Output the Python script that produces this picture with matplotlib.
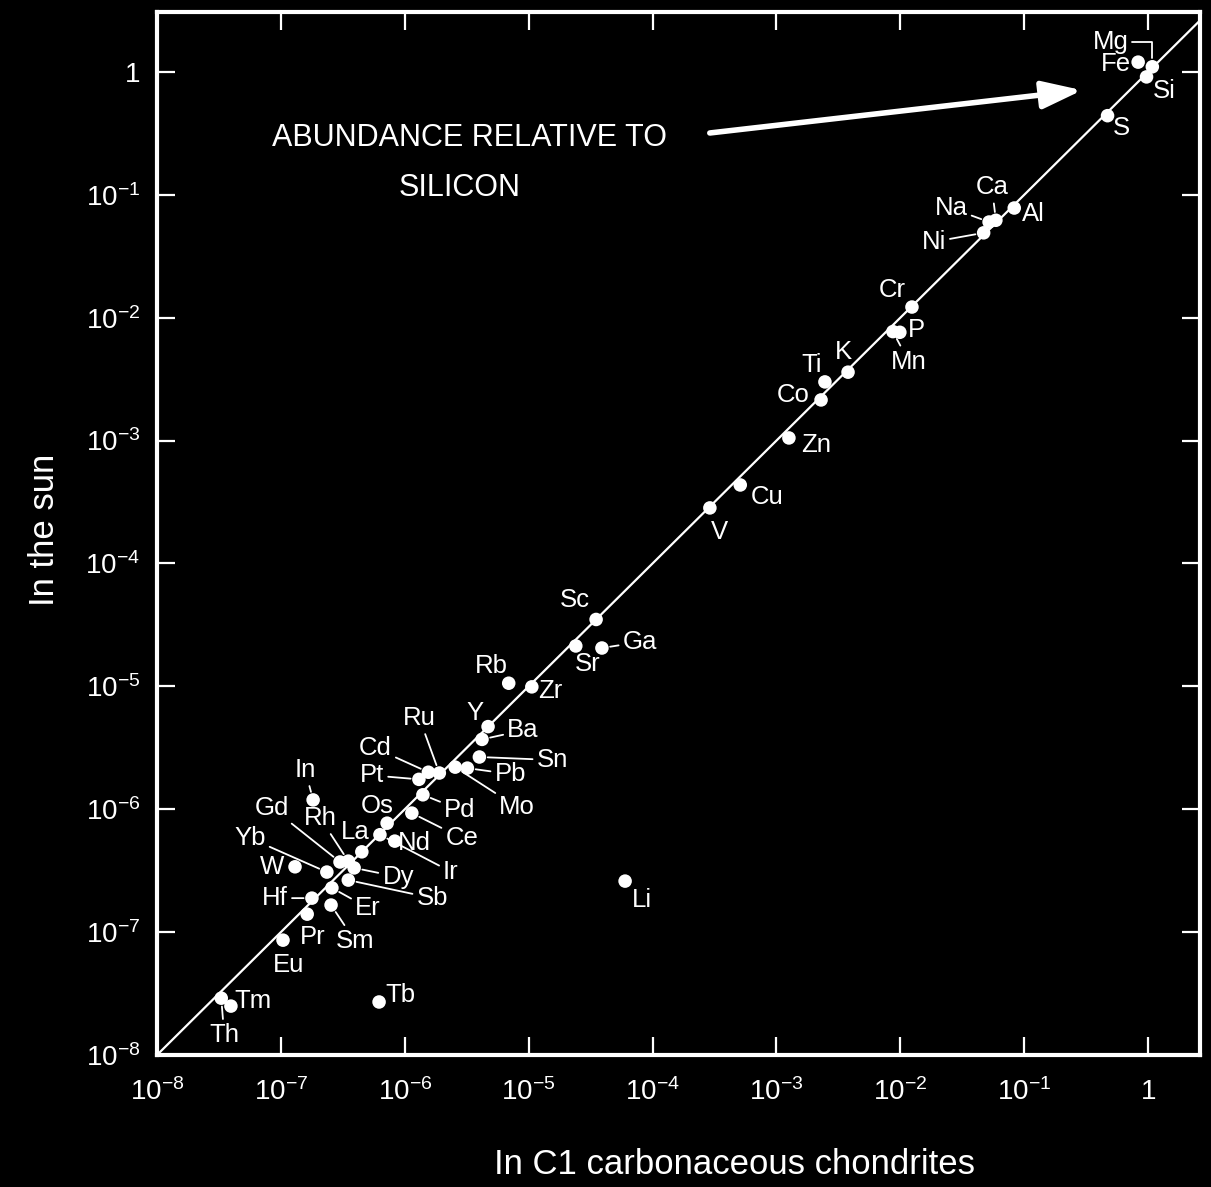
import numpy as np
import matplotlib.pyplot as plt
from matplotlib.ticker import FixedLocator, FuncFormatter, NullLocator

# ------------------------------------------------------------
# DATA (abundance relative to silicon)
# ------------------------------------------------------------

elements = [
    "Mg", "Fe", "Si", "S", "Al", "Ca", "Na", "Ni",
    "Cr", "P", "Mn", "Ti", "K", "Co", "Zn", "Cu", "V",
    "Sc", "Sr", "Ga", "Rb", "Zr", "Y", "Ba",
    "Sn", "Pb", "Mo", "Ru", "Cd", "Pt", "Pd",
    "Os", "Ce", "Nd", "Ir", "La",
    "In", "Rh", "Gd", "Yb", "W", "Dy", "Sb",
    "Hf", "Er", "Sm", "Pr", "Eu", "Tm", "Th", "Tb", "Li",
]

chondrites = [
    1.08, 0.83, 0.97, 0.47, 0.083, 0.059, 0.052, 0.047,
    0.0124, 0.0099, 0.0087, 0.00246, 0.00378, 0.00229, 0.00126, 5.1e-4, 2.9e-4,
    3.5e-5, 2.4e-5, 3.9e-5, 6.9e-6, 1.06e-5, 4.7e-6, 4.2e-6,
    4.0e-6, 3.2e-6, 2.55e-6, 1.9e-6, 1.55e-6, 1.3e-6, 1.4e-6,
    7.2e-7, 1.14e-6, 8.3e-7, 6.3e-7, 4.5e-7,
    1.82e-7, 3.5e-7, 3.0e-7, 2.35e-7, 1.3e-7, 3.9e-7, 3.5e-7,
    1.78e-7, 2.58e-7, 2.54e-7, 1.63e-7, 1.04e-7, 3.95e-8, 3.3e-8, 6.2e-7, 6.0e-5,
]

sun = [
    1.10, 1.2, 0.91, 0.44, 0.078, 0.062, 0.060, 0.049,
    0.0122, 0.0076, 0.0077, 0.0030, 0.0036, 0.00214, 0.00105, 4.35e-4, 2.83e-4,
    3.5e-5, 2.13e-5, 2.05e-5, 1.06e-5, 9.9e-6, 4.7e-6, 3.7e-6,
    2.66e-6, 2.16e-6, 2.2e-6, 1.97e-6, 2.0e-6, 1.75e-6, 1.31e-6,
    7.7e-7, 9.3e-7, 5.5e-7, 6.2e-7, 4.5e-7,
    1.19e-6, 3.78e-7, 3.72e-7, 3.08e-7, 3.4e-7, 3.33e-7, 2.65e-7,
    1.89e-7, 2.29e-7, 1.66e-7, 1.40e-7, 8.6e-8, 2.5e-8, 2.9e-8, 2.7e-8, 2.6e-7,
]

decades = list(range(-8, 1))

# label placement (pixel offset from point to label centre)
label_offset = {
    "Mg": (-42, 25), "Fe": (-22, -2), "Si": (18, -14), "S": (14, -12),
    "Al": (19, -6), "Ca": (-4, 33), "Na": (-38, 14), "Ni": (-50, -9),
    "Cr": (-20, 17), "P": (17, 2), "Mn": (16, -30), "Ti": (-13, 17),
    "K": (-5, 20), "Co": (-28, 5), "Zn": (27, -7), "Cu": (27, -12),
    "V": (10, -24), "Sc": (-21, 19), "Sr": (12, -18), "Ga": (38, 6),
    "Rb": (-17, 17), "Zr": (18, -4), "Y": (-13, 14), "Ba": (41, 9),
    "Sn": (73, -3), "Pb": (43, -6), "Mo": (62, -40), "Ru": (-20, 55),
    "Cd": (-53, 24), "Pt": (-47, 4), "Pd": (37, -15), "Os": (-10, 17),
    "Ce": (50, -25), "Nd": (20, -2), "Ir": (71, -37), "La": (-7, 20),
    "In": (-8, 30), "Rh": (-28, 43), "Gd": (-68, 54), "Yb": (-77, 34),
    "W": (-23, 0), "Dy": (44, -9), "Sb": (84, -18), "Hf": (-37, 0),
    "Er": (36, -20), "Sm": (24, -36), "Pr": (6, -23), "Eu": (6, -25),
    "Tm": (22, 5), "Th": (3, -37), "Tb": (21, 7), "Li": (17, -19),
}

leaders = {
    "Mg", "Ca", "Na", "Ni", "Mn", "Ga", "Ba", "Sn", "Pb", "Mo", "Ru",
    "Cd", "Pt", "Pd", "Ce", "Ir", "In", "Rh", "Gd", "Yb", "Dy", "Sb",
    "Hf", "Er", "Sm", "Th",
}

# ------------------------------------------------------------
# STYLE
# ------------------------------------------------------------

plt.rcParams['font.family'] = ['Liberation Sans', 'DejaVu Sans']
plt.rcParams['mathtext.fontset'] = 'custom'
plt.rcParams['mathtext.rm'] = 'Liberation Sans'
plt.rcParams['mathtext.it'] = 'Liberation Sans'
plt.rcParams['mathtext.default'] = 'regular'

W, H = 1211, 1187

fig = plt.figure(figsize=(W / 100, H / 100), dpi=100, facecolor='black')
ax = fig.add_axes([157 / W, 132 / H, 1043 / W, 1043 / H])
ax.set_facecolor('black')

ax.set_xscale('log')
ax.set_yscale('log')
ax.set_xlim(1e-8, 2.62)
ax.set_ylim(1e-8, 3.07)

# y = x line
ax.plot([1e-8, 10], [1e-8, 10], color='white', lw=1.6, zorder=2)

ax.scatter(chondrites, sun, s=95, color='white', edgecolors='none', zorder=3)

for name, xv, yv in zip(elements, chondrites, sun):
    dx, dy = label_offset[name]
    arrow = None
    if name in leaders:
        arrow = dict(arrowstyle='-', color='white', lw=1.3,
                     shrinkA=1, shrinkB=6)
        if name == "Mg":
            arrow['connectionstyle'] = 'angle,angleA=0,angleB=90,rad=0'
    ax.annotate(name, (xv, yv), xytext=(dx, dy), textcoords='offset pixels',
                ha='center', va='center', color='white', fontsize=18.5,
                arrowprops=arrow, zorder=4)

# ticks
ticks = [10.0 ** k for k in decades]


def fmt(v, _):
    k = int(round(np.log10(v)))
    return '1' if k == 0 else '$10^{%d}$' % k


for axis in (ax.xaxis, ax.yaxis):
    axis.set_major_locator(FixedLocator(ticks))
    axis.set_minor_locator(NullLocator())
    axis.set_major_formatter(FuncFormatter(fmt))

ax.tick_params(which='major', direction='in', length=13, width=1.6,
               color='white', labelcolor='white', labelsize=20,
               top=True, right=True)
ax.tick_params(axis='x', pad=17)
ax.tick_params(axis='y', pad=12)

for sp in ax.spines.values():
    sp.set_color('white')
    sp.set_linewidth(3)

# annotation
ax.annotate('', xy=(0.887, 0.925), xytext=(0.530, 0.884),
            xycoords='axes fraction',
            arrowprops=dict(arrowstyle='-|>,head_length=1.1,head_width=0.38',
                            color='white', lw=4, mutation_scale=22,
                            shrinkA=0, shrinkB=0))
ax.text(0.300, 0.879, 'ABUNDANCE RELATIVE TO', transform=ax.transAxes,
        ha='center', va='center', color='white', fontsize=22)
ax.text(0.2905, 0.831, 'SILICON', transform=ax.transAxes,
        ha='center', va='center', color='white', fontsize=22)

fig.text(735 / W, 1 - 1165 / H, 'In C1 carbonaceous chondrites',
         ha='center', va='center', color='white', fontsize=25)
fig.text(45 / W, 1 - 530 / H, 'In the sun', rotation=90,
         ha='center', va='center', color='white', fontsize=25)

fig.savefig('out.png', dpi=100, facecolor='black')
